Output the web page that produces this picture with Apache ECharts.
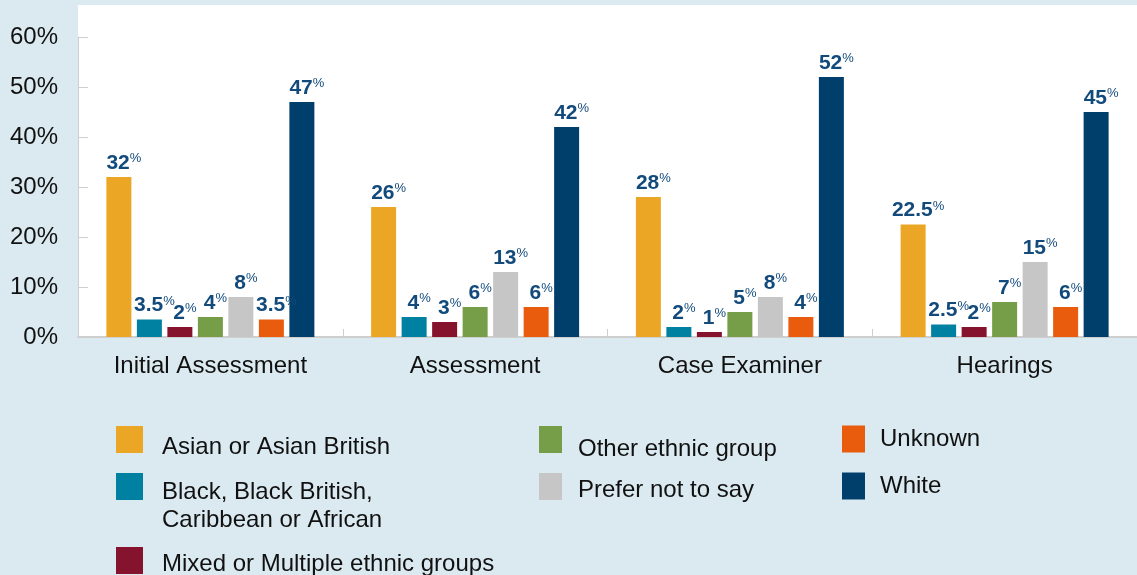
<!DOCTYPE html>
<html>
<head>
<meta charset="utf-8">
<script src="https://cdn.jsdelivr.net/npm/echarts@6/dist/echarts.min.js"></script>
<style>
html,body{margin:0;padding:0;background:#dbeaf1;}
#chart{width:1137px;height:575px;}
</style>
</head>
<body>
<div id="chart"></div>
<script>
var categories = ['Initial Assessment', 'Assessment', 'Case Examiner', 'Hearings'];
var seriesNames = ['Asian or Asian British', 'Black, Black British, Caribbean or African', 'Mixed or Multiple ethnic groups', 'Other ethnic group', 'Prefer not to say', 'Unknown', 'White'];
var asian   = [32, 26, 28, 22.5];
var black   = [3.5, 4, 2, 2.5];
var mixed   = [2, 3, 1, 2];
var other   = [4, 6, 5, 7];
var prefer  = [8, 13, 8, 15];
var unknown = [3.5, 6, 4, 6];
var white   = [47, 42, 52, 45];
var yTicks = [0, 10, 20, 30, 40, 50, 60];

var seriesValues = [asian, black, mixed, other, prefer, unknown, white];
var colors = ['#eaa624', '#0081a1', '#85132e', '#769d48', '#c6c6c6', '#e95c0e', '#003e6b'];
var FONT = '"Liberation Sans", Arial, Helvetica, sans-serif';

// s: spacer height above text (pushes text down relative to icon), gap: icon-text gap
var legendPos = [
  {left: 116, iconTop: 426, w: 27, h: 27, s: 16, gap: 14, lines: 1},
  {left: 116, iconTop: 473, w: 27, h: 27, s: 39, gap: 14, lines: 2},
  {left: 116, iconTop: 547, w: 27, h: 27, s: 7, gap: 14, lines: 1},
  {left: 539, iconTop: 426, w: 23, h: 27, s: 19, gap: 11, lines: 1},
  {left: 539, iconTop: 473, w: 23, h: 27, s: 7, gap: 11, lines: 1},
  {left: 842, iconTop: 426, w: 23, h: 27, s: 0, gap: 10, lines: 1},
  {left: 842, iconTop: 473, w: 23, h: 27, s: 0, gap: 10, lines: 1}
];

var legends = seriesNames.map(function (name, i) {
  var p = legendPos[i];
  var off = (Math.max(p.h, 28 * p.lines) - p.h) / 2 + (p.s > 0 ? 1 : 0);
  return {
    data: [name],
    left: p.left, top: p.iconTop - off, padding: 0,
    itemWidth: p.w, itemHeight: p.h, icon: 'rect',
    selectedMode: false,
    formatter: function (n) {
      var lines = n === 'Black, Black British, Caribbean or African'
        ? ['Black, Black British,', 'Caribbean or African'] : [n];
      var out = lines.map(function (l) { return '{t|' + l + '}'; }).join('\n');
      if (p.s > 0) out = '{s| }\n' + out;
      return out;
    },
    textStyle: {
      fontFamily: FONT, fontSize: 24, color: '#111',
      rich: {
        s: {fontSize: 2, lineHeight: p.s, padding: [0, 0, 0, p.gap]},
        t: {fontFamily: FONT, fontSize: 24, color: '#111', lineHeight: 28, padding: [0, 0, 0, p.gap]}
      }
    }
  };
});

var series = seriesNames.map(function (name, i) {
  return {
    name: name,
    type: 'bar',
    data: seriesValues[i],
    barWidth: 25,
    barGap: '22%',
    itemStyle: {color: colors[i]},
    label: {
      show: true,
      position: 'top',
      distance: 3,
      offset: [5, 0],
      formatter: function (p) { return '{n|' + p.value + '}{p|%}'; },
      rich: {
        n: {fontFamily: FONT, fontSize: 21, fontWeight: 'bold', color: '#124a7c', lineHeight: 22},
        p: {fontFamily: FONT, fontSize: 13, color: '#124a7c', verticalAlign: 'top', lineHeight: 22, padding: [0, 0, 9, 0]}
      }
    }
  };
});

var chart = echarts.init(document.getElementById('chart'), null, {renderer: 'canvas'});
chart.setOption({
  backgroundColor: '#dbeaf1',
  animation: false,
  color: colors,
  graphic: [{
    type: 'rect', z: -10, silent: true,
    shape: {x: 78, y: 5, width: 1059, height: 332},
    style: {fill: '#ffffff'}
  }],
  legend: legends,
  grid: {left: 78, top: 37, width: 1068, height: 300, containLabel: false},
  xAxis: {
    type: 'category',
    data: categories,
    axisLine: {lineStyle: {color: '#cfcfcf', width: 2}},
    axisTick: {show: true, inside: true, length: 8, lineStyle: {color: '#cfcfcf'}},
    axisLabel: {fontFamily: FONT, fontSize: 24, color: '#111', margin: 17}
  },
  yAxis: {
    type: 'value',
    min: yTicks[0], max: yTicks[yTicks.length - 1], interval: 10,
    splitLine: {show: false},
    axisLine: {show: true, lineStyle: {color: '#cfcfcf'}},
    axisTick: {show: true, inside: true, length: 10, lineStyle: {color: '#cfcfcf'}},
    axisLabel: {fontFamily: FONT, fontSize: 24, color: '#111', margin: 20, formatter: '{value}%'}
  },
  series: series
});
</script>
</body>
</html>
